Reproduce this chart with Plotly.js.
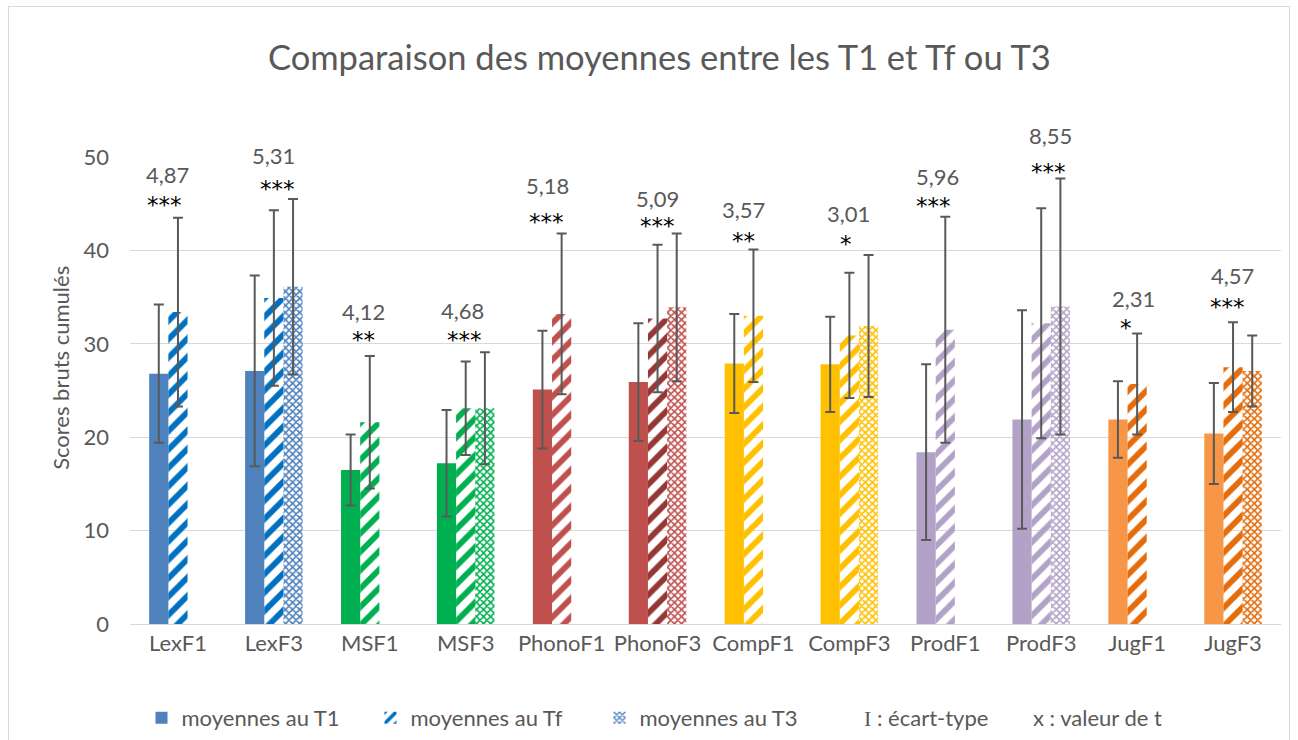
<!DOCTYPE html>
<html>
<head>
<meta charset="utf-8">
<script src="https://cdn.plot.ly/plotly-3.0.1.min.js"></script>
<style>
  html, body { margin: 0; padding: 0; background: #fff; }
  #frame { position: absolute; left: 8px; top: 6px; width: 1282px; height: 760px; border: 1px solid #d9d9d9; box-sizing: border-box; }
  #chart { position: absolute; left: 0; top: 0; width: 1298px; height: 740px; }
</style>
</head>
<body>
<div id="frame"></div>
<div id="chart"></div>
<script>
// ---- data ----
const categories = ['LexF1','LexF3','MSF1','MSF3','PhonoF1','PhonoF3','CompF1','CompF3','ProdF1','ProdF3','JugF1','JugF3'];

const meanT1 = [26.8, 27.1, 16.5, 17.2, 25.1, 25.9, 27.9, 27.8, 18.4, 21.9, 21.9, 20.4];
const sdT1   = [7.4, 10.2, 3.8, 5.7, 6.3, 6.3, 5.3, 5.1, 9.4, 11.7, 4.1, 5.4];

const meanTf = [33.4, 34.9, 21.6, 23.1, 33.2, 32.7, 33.0, 30.9, 31.5, 32.2, 25.7, 27.5];
const sdTf   = [10.1, 9.4, 7.1, 5.0, 8.6, 7.9, 7.1, 6.7, 12.1, 12.3, 5.4, 4.8];

const meanT3 = [null, 36.1, null, 23.1, null, 33.9, null, 31.9, null, 34.0, null, 27.1];
const sdT3   = [null, 9.4, null, 6.0, null, 7.9, null, 7.6, null, 13.7, null, 3.8];

const tValues = ['4,87','5,31','4,12','4,68','5,18','5,09','3,57','3,01','5,96','8,55','2,31','4,57'];
const stars   = ['***','***','**','***','***','***','**','*','***','***','*','***'];

const seriesNames = ['moyennes au T1','moyennes au Tf','moyennes au T3'];
const yMax = 50;

// ---- styling / placement ----
const t1Colors = ['#4F81BD','#4F81BD','#00B050','#00B050','#C0504D','#C0504D','#FFC000','#FFC000','#B3A2C7','#B3A2C7','#F79646','#F79646'];
const tfColors = ['#0070C0','#0070C0','#00B050','#00B050','#C0504D','#953735','#FFC000','#FFC000','#B3A2C7','#B3A2C7','#E46C0A','#E46C0A'];
const t3Colors = ['#4F81BD','#4F81BD','#00B050','#00B050','#C0504D','#C0504D','#FFC000','#FFC000','#B3A2C7','#B3A2C7','#E46C0A','#E46C0A'];

// label heights (in score units) and horizontal nudges (px)
const tLabelY = [48.1, 50.2, 33.5, 33.6, 47.0, 45.6, 44.4, 44.0, 47.9, 52.3, 34.9, 37.3];
const starLabelY = [45.7, 47.4, 31.3, 31.3, 43.9, 43.5, 41.9, 41.5, 45.6, 49.3, 32.5, 34.8];
const tLabelDx = [-10, 0, -6, -3, -14, 0, -10, -1, -8, 9, -4, -1];
const starLabelDx = [-13, 4, -6, -1, -15, 0, -10, -3, -12, 7, -11, -6];

const FONT = 'Lato, "Open Sans", sans-serif';
const GREY = '#595959';
const errStyle = {type: 'data', visible: true, color: '#595959', thickness: 2, width: 5};

const traces = [
  {
    type: 'bar', name: seriesNames[0], x: categories, y: meanT1,
    marker: {color: t1Colors, line: {width: 0}},
    error_y: Object.assign({array: sdT1}, errStyle),
    hoverinfo: 'x+y'
  },
  {
    type: 'bar', name: seriesNames[1], x: categories, y: meanTf,
    marker: {color: tfColors, line: {width: 0},
      pattern: {shape: '/', fgcolor: tfColors, bgcolor: '#ffffff', size: 13, solidity: 0.45, fillmode: 'replace'}},
    error_y: Object.assign({array: sdTf}, errStyle),
    hoverinfo: 'x+y'
  },
  {
    type: 'bar', name: seriesNames[2], x: categories, y: meanT3,
    marker: {color: t3Colors, line: {width: 0},
      pattern: {shape: 'x', fgcolor: t3Colors, bgcolor: '#ffffff', size: 5, solidity: 0.55, fillmode: 'replace'}},
    error_y: Object.assign({array: sdT3}, errStyle),
    hoverinfo: 'x+y'
  }
];

const annotations = [];
categories.forEach((c, i) => {
  annotations.push({x: c, y: tLabelY[i] / yMax, xref: 'x', yref: 'paper', xanchor: 'center', yanchor: 'middle',
    text: tValues[i], showarrow: false, xshift: tLabelDx[i], font: {family: FONT, size: 22, color: GREY}});
  annotations.push({x: c, y: starLabelY[i] / yMax, xref: 'x', yref: 'paper', xanchor: 'center', yanchor: 'middle',
    text: stars[i], showarrow: false, xshift: starLabelDx[i], yshift: -8,
    font: {family: '"DejaVu Sans", sans-serif', size: 23, color: '#000000'}});
});
annotations.push({xref: 'paper', yref: 'paper', x: -0.061, y: 0.548, xanchor: 'center', yanchor: 'middle',
  text: 'Scores bruts cumulés', textangle: -90, showarrow: false, font: {family: FONT, size: 22, color: GREY}});
annotations.push({xref: 'paper', yref: 'paper', x: 0.6916, y: -0.201, xanchor: 'center', yanchor: 'middle',
  text: '<span style="font-family:Liberation Serif">I</span> : écart-type',
  showarrow: false, font: {family: FONT, size: 22, color: GREY}});
annotations.push({xref: 'paper', yref: 'paper', x: 0.841, y: -0.201, xanchor: 'center', yanchor: 'middle',
  text: 'x : valeur de t', showarrow: false, font: {family: FONT, size: 22, color: GREY}});

const layout = {
  width: 1298, height: 740,
  paper_bgcolor: 'rgba(0,0,0,0)', plot_bgcolor: 'rgba(0,0,0,0)',
  margin: {l: 130, r: 17, t: 157, b: 116, autoexpand: false},
  font: {family: FONT, color: GREY},
  title: {text: 'Comparaison des moyennes entre les T1 et Tf ou T3', x: 0.508, xanchor: 'center', y: 0.922, yanchor: 'middle',
    font: {family: FONT, size: 34.5, color: GREY}},
  barmode: 'group', bargap: 0.4, bargroupgap: 0,
  xaxis: {type: 'category', showline: true, linecolor: '#d9d9d9', linewidth: 1, ticks: '', automargin: false,
    tickfont: {family: FONT, size: 22, color: GREY}, showgrid: false},
  yaxis: {range: [0, yMax], dtick: 10, showgrid: true, gridcolor: '#d9d9d9', gridwidth: 1, zeroline: false, automargin: false,
    showline: false, ticks: '', ticklabelstandoff: 20, tickfont: {family: FONT, size: 22, color: GREY}},
  showlegend: true,
  legend: {orientation: 'h', x: 0.01, xanchor: 'left', y: -0.201, yanchor: 'middle', entrywidth: 184,
    font: {family: FONT, size: 22, color: GREY}, traceorder: 'normal', itemclick: false},
  annotations: annotations
};

Plotly.newPlot('chart', traces, layout, {displayModeBar: false});
</script>
</body>
</html>
